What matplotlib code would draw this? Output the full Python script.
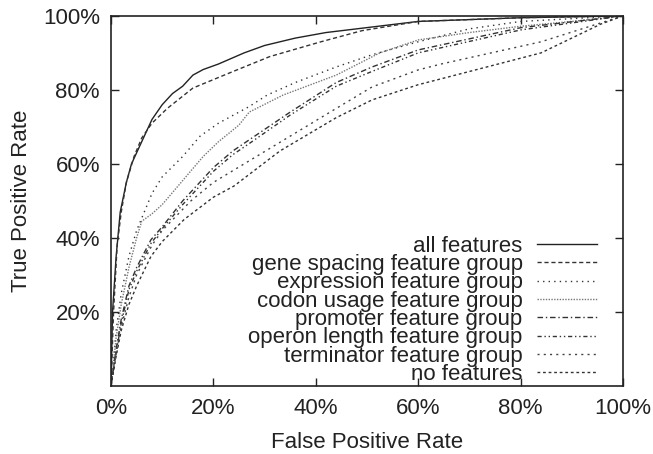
import matplotlib
matplotlib.use("Agg")
import matplotlib.pyplot as plt
from matplotlib.ticker import FuncFormatter

plt.rcParams['font.family'] = ['Liberation Sans', 'DejaVu Sans']

names = ["all features", "gene spacing feature group", "expression feature group",
         "codon usage feature group", "promoter feature group",
         "operon length feature group", "terminator feature group", "no features"]

all_fpr = [0, 0.003, 0.01, 0.018, 0.03, 0.04, 0.06, 0.08, 0.1, 0.12, 0.14, 0.16, 0.18, 0.21, 0.26, 0.3, 0.36, 0.42, 0.48, 0.6, 0.8, 1.0]
all_tpr = [0, 0.2, 0.35, 0.47, 0.55, 0.6, 0.66, 0.72, 0.76, 0.79, 0.81, 0.84, 0.855, 0.87, 0.9, 0.92, 0.94, 0.955, 0.965, 0.985, 0.995, 1.0]

gene_fpr = [0, 0.005, 0.012, 0.02, 0.03, 0.045, 0.06, 0.08, 0.11, 0.16, 0.23, 0.31, 0.41, 0.49, 0.6, 0.8, 1.0]
gene_tpr = [0, 0.2, 0.38, 0.47, 0.55, 0.62, 0.67, 0.71, 0.75, 0.805, 0.845, 0.89, 0.93, 0.96, 0.985, 0.995, 1.0]

expr_fpr = [0, 0.01, 0.02, 0.035, 0.05, 0.065, 0.08, 0.1, 0.14, 0.174, 0.21, 0.27, 0.305, 0.36, 0.44, 0.51, 0.6, 0.7, 0.8, 1.0]
expr_tpr = [0, 0.15, 0.25, 0.35, 0.42, 0.47, 0.52, 0.565, 0.62, 0.675, 0.71, 0.755, 0.786, 0.82, 0.862, 0.895, 0.93, 0.965, 0.985, 1.0]

codon_fpr = [0, 0.01, 0.02, 0.035, 0.05, 0.06, 0.08, 0.1, 0.14, 0.18, 0.21, 0.25, 0.27, 0.336, 0.44, 0.525, 0.6, 0.7, 0.8, 0.9, 1.0]
codon_tpr = [0, 0.13, 0.22, 0.32, 0.40, 0.445, 0.465, 0.49, 0.555, 0.62, 0.66, 0.705, 0.74, 0.786, 0.84, 0.9, 0.935, 0.955, 0.972, 0.985, 1.0]

prom_fpr = [0, 0.01, 0.02, 0.035, 0.05, 0.078, 0.1, 0.14, 0.2, 0.238, 0.27, 0.35, 0.44, 0.51, 0.6, 0.8, 1.0]
prom_tpr = [0, 0.1, 0.18, 0.27, 0.32, 0.395, 0.43, 0.5, 0.59, 0.635, 0.665, 0.74, 0.82, 0.862, 0.908, 0.968, 1.0]

oper_fpr = [0, 0.01, 0.02, 0.035, 0.05, 0.078, 0.1, 0.14, 0.2, 0.238, 0.27, 0.35, 0.44, 0.51, 0.6, 0.8, 1.0]
oper_tpr = [0, 0.09, 0.17, 0.26, 0.31, 0.385, 0.425, 0.49, 0.58, 0.625, 0.655, 0.732, 0.81, 0.85, 0.9, 0.962, 1.0]

term_fpr = [0, 0.01, 0.02, 0.035, 0.05, 0.08, 0.1, 0.156, 0.2, 0.29, 0.44, 0.51, 0.6, 0.645, 0.84, 1.0]
term_tpr = [0, 0.09, 0.16, 0.24, 0.30, 0.38, 0.42, 0.50, 0.55, 0.625, 0.75, 0.808, 0.854, 0.87, 0.93, 1.0]

none_fpr = [0, 0.01, 0.02, 0.035, 0.05, 0.078, 0.1, 0.143, 0.2, 0.24, 0.33, 0.44, 0.51, 0.6, 0.645, 0.84, 0.957, 1.0]
none_tpr = [0, 0.08, 0.15, 0.22, 0.27, 0.35, 0.39, 0.45, 0.51, 0.54, 0.635, 0.725, 0.773, 0.814, 0.83, 0.9, 0.978, 1.0]

x_ticks = [0, 0.2, 0.4, 0.6, 0.8, 1.0]
y_ticks = [0.2, 0.4, 0.6, 0.8, 1.0]

series = [(all_fpr, all_tpr), (gene_fpr, gene_tpr), (expr_fpr, expr_tpr), (codon_fpr, codon_tpr),
          (prom_fpr, prom_tpr), (oper_fpr, oper_tpr), (term_fpr, term_tpr), (none_fpr, none_tpr)]
styles = [
    dict(color='#222222', linestyle='-', lw=1.0),
    dict(color='#333333', linestyle=(0, (3, 2)), lw=1.0),
    dict(color='#333333', linestyle=(0, (1, 3)), lw=1.0),
    dict(color='#777777', linestyle=(0, (1, 1)), lw=1.0),
    dict(color='#333333', linestyle=(0, (4, 2, 1, 2)), lw=1.0),
    dict(color='#333333', linestyle=(0, (3, 2, 1, 2, 1, 2)), lw=1.0),
    dict(color='#444444', linestyle=(0, (1.5, 3)), lw=1.0),
    dict(color='#333333', linestyle=(0, (2, 2)), lw=1.0),
]

FS = 16
fig = plt.figure(figsize=(6.53, 4.54), dpi=100)
ax = fig.add_axes([0.170, 0.150, 0.784, 0.815])
for (fx, ty), st, nm in zip(series, styles, names):
    ax.plot(fx, ty, label=nm, **st)

ax.set_xlim(0, 1)
ax.set_ylim(0, 1)
ax.set_xticks(x_ticks)
ax.set_yticks(y_ticks)
pct = FuncFormatter(lambda v, p: f"{int(round(v * 100))}%")
ax.xaxis.set_major_formatter(pct)
ax.yaxis.set_major_formatter(pct)
ax.tick_params(direction='in', length=6, width=1, labelsize=FS, colors='#222222',
               top=True, right=True, pad=8)
ax.tick_params(axis='x', pad=9)
for s in ax.spines.values():
    s.set_linewidth(1.2)
    s.set_color('#222222')
ax.set_xlabel("False Positive Rate", fontsize=FS, color='#222222', labelpad=9)
ax.set_ylabel("True Positive Rate", fontsize=FS, color='#222222', labelpad=8)

leg = ax.legend(loc='lower right', bbox_to_anchor=(0.966, -0.022), frameon=False,
                markerfirst=False, fontsize=FS, handlelength=2.7, labelspacing=-0.12,
                handletextpad=0.63, borderaxespad=0.0)
for t in leg.get_texts():
    t.set_color('#222222')
    t.set_ha('right')
fig.savefig("out.png", dpi=100)
